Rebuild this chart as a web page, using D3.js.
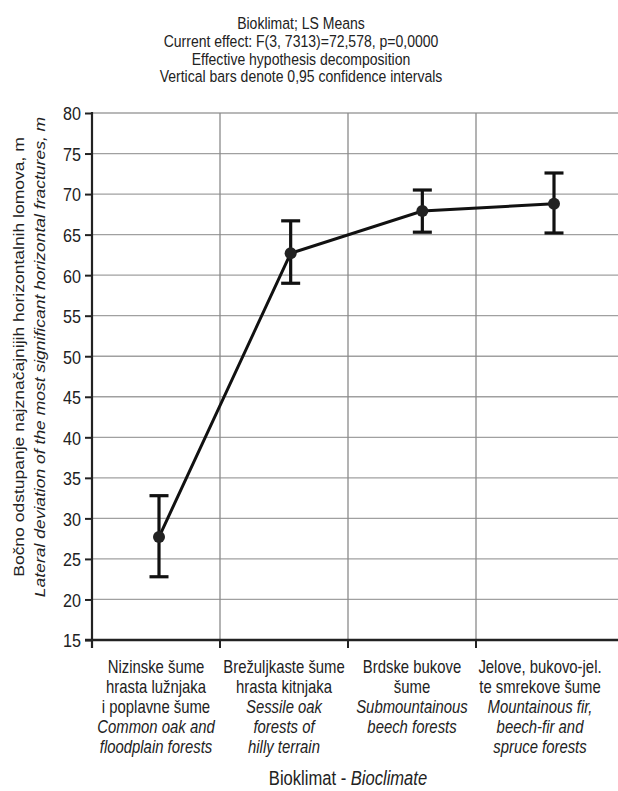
<!DOCTYPE html>
<html><head><meta charset="utf-8">
<script src="https://cdn.jsdelivr.net/npm/d3@7"></script>
<style>
html,body{margin:0;padding:0;background:#fff;}
svg text{font-family:"Liberation Sans",Arial,sans-serif;fill:#222;}
</style></head><body>
<svg id="c" width="618" height="791"></svg>
<script>
const titleLines = ["Bioklimat; LS Means","Current effect: F(3, 7313)=72,578, p=0,0000","Effective hypothesis decomposition","Vertical bars denote 0,95 confidence intervals"];
const categories = ["Nizinske","Brežuljkaste","Brdske","Jelove"];
const labelsHr = [["Nizinske šume","hrasta lužnjaka","i poplavne šume"],["Brežuljkaste šume","hrasta kitnjaka"],["Brdske bukove","šume"],["Jelove, bukovo-jel.","te smrekove šume"]];
const labelsEn = [["Common oak and","floodplain forests"],["Sessile oak","forests of","hilly terrain"],["Submountainous","beech forests"],["Mountainous fir,","beech-fir and","spruce forests"]];
const means = [27.7, 62.7, 67.9, 68.8];
const lower = [22.8, 59.0, 65.3, 65.2];
const upper = [32.8, 66.7, 70.5, 72.6];
const yTicks = [15,20,25,30,35,40,45,50,55,60,65,70,75,80];
const yTitleHr = "Bočno odstupanje najznačajnijih horizontalnih lomova, m";
const yTitleEn = "Lateral deviation of the most significant horizontal fractures, m";
const xTitleHr = "Bioklimat - ";
const xTitleEn = "Bioclimate";

const SX = 0.85; // horizontal squeeze of the original picture
const svg = d3.select("#c");
const pL = 92, pR = 618, pT = 113, pB = 640, bandRight = 604;
const y = d3.scaleLinear().domain([15,80]).range([pB, pT]);
const xb = d3.scaleBand().domain(categories).range([pL, bandRight]).padding(0);
const xp = d3.scalePoint().domain(categories).range([159, 554]);

function sqText(parent, x, yy, size){
  return parent.append("text").attr("transform",`translate(${x},${yy}) scale(${SX},1)`)
    .attr("text-anchor","middle").style("font-size", size+"px");
}

// title
titleLines.forEach((t,i)=>{ sqText(svg, 301, 29 + i*17.8, 16.5).text(t); });

// horizontal gridlines
svg.append("g").selectAll("line").data(yTicks.filter(t=>t>15)).join("line")
  .attr("x1", pL).attr("x2", pR).attr("y1", d=>y(d)).attr("y2", d=>y(d))
  .attr("stroke","#a0a0a0").attr("stroke-width",1.3);
// vertical gridlines
svg.append("g").selectAll("line").data(categories.slice(1)).join("line")
  .attr("x1", d=>xb(d)).attr("x2", d=>xb(d)).attr("y1", pT).attr("y2", pB)
  .attr("stroke","#8a8a8a").attr("stroke-width",1.3);

// y axis
const ya = svg.append("g").attr("transform",`translate(${pL},0)`)
  .call(d3.axisLeft(y).tickValues(yTicks).tickSize(7).tickPadding(4).tickSizeOuter(0));
ya.select(".domain").remove();
ya.selectAll(".tick line").attr("stroke","#222").attr("stroke-width",2);
ya.selectAll(".tick text").style("font-size","19px").attr("fill","#222").attr("dy","0.36em")
  .attr("x",0).attr("transform",`translate(-11,0) scale(${SX},1)`);
svg.append("line").attr("x1",pL).attr("x2",pL).attr("y1",pT-1).attr("y2",pB+8)
  .attr("stroke","#222").attr("stroke-width",2.2);

// x axis
svg.append("line").attr("x1",pL-7).attr("x2",pR).attr("y1",pB).attr("y2",pB)
  .attr("stroke","#222").attr("stroke-width",2.4);
svg.append("g").selectAll("line").data(categories.slice(1)).join("line")
  .attr("x1", d=>xb(d)).attr("x2", d=>xb(d)).attr("y1", pB).attr("y2", pB+8)
  .attr("stroke","#222").attr("stroke-width",2);

// x labels
categories.forEach((c,i)=>{
  const lines = labelsHr[i].map(t=>({t,it:false})).concat(labelsEn[i].map(t=>({t,it:true})));
  lines.forEach((d,j)=>{
    sqText(svg, xb(c)+xb.bandwidth()/2, 673+j*20, 17.5).style("font-style",d.it?"italic":"normal").text(d.t);
  });
});
const xt = sqText(svg, 348, 785, 19.5);
xt.append("tspan").text(xTitleHr);
xt.append("tspan").style("font-style","italic").text(xTitleEn);

// y title
svg.append("text").attr("transform",`translate(24,357) scale(${SX},1) rotate(-90)`).attr("text-anchor","middle")
  .style("font-size","17.5px").text(yTitleHr);
svg.append("text").attr("transform",`translate(45,357) scale(${SX},1) rotate(-90)`).attr("text-anchor","middle")
  .style("font-size","17.5px").style("font-style","italic").text(yTitleEn);

// line
const line = d3.line().x((d,i)=>xp(categories[i])).y(d=>y(d));
svg.append("path").datum(means).attr("d",line).attr("fill","none").attr("stroke","#111").attr("stroke-width",3);

// error bars
const eb = svg.append("g").attr("stroke","#111").attr("stroke-width",3.2);
categories.forEach((c,i)=>{
  const cx = xp(c);
  eb.append("line").attr("x1",cx).attr("x2",cx).attr("y1",y(lower[i])).attr("y2",y(upper[i]));
  eb.append("line").attr("x1",cx-9.5).attr("x2",cx+9.5).attr("y1",y(lower[i])).attr("y2",y(lower[i]));
  eb.append("line").attr("x1",cx-9.5).attr("x2",cx+9.5).attr("y1",y(upper[i])).attr("y2",y(upper[i]));
});
svg.append("g").selectAll("circle").data(means).join("circle")
  .attr("cx",(d,i)=>xp(categories[i])).attr("cy",d=>y(d)).attr("r",6).attr("fill","#222");
</script></body></html>
